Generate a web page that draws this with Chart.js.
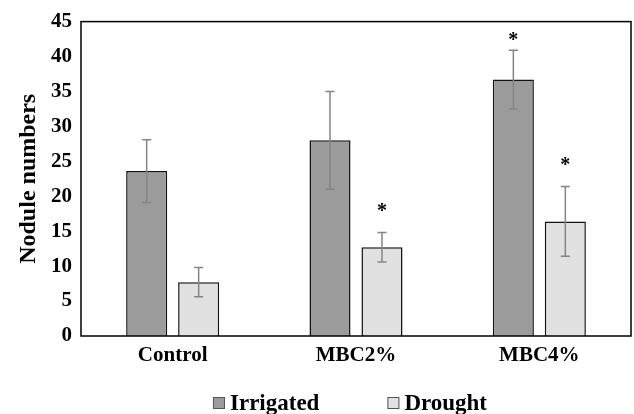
<!DOCTYPE html>
<html>
<head>
<meta charset="utf-8">
<script src="https://cdn.jsdelivr.net/npm/chart.js@4.4.0/dist/chart.umd.min.js"></script>
<style>
html,body{margin:0;padding:0;background:#fff;}
#wrap{width:634px;height:414px;}
</style>
</head>
<body>
<div id="wrap"><canvas id="c" width="634" height="414"></canvas></div>
<script>
const categories = ["Control", "MBC2%", "MBC4%"];
const seriesNames = ["Irrigated", "Drought"];
const irrigated = [23.6, 28.0, 36.7];
const drought = [7.7, 12.7, 16.4];
const irrigatedErr = [4.5, 7.0, 4.2];
const droughtErr = [2.1, 2.1, 5.0];
const irrigatedSig = [null, null, 42.9];
const droughtSig = [null, 18.4, 24.9];
const yTicks = [0, 5, 10, 15, 20, 25, 30, 35, 40, 45];

const FONT = "'Liberation Serif', 'Times New Roman', serif";

const errorPlugin = {
  id: 'errs',
  afterDatasetsDraw(chart) {
    const ctx = chart.ctx;
    const y = chart.scales.y;
    chart.data.datasets.forEach((ds, di) => {
      const meta = chart.getDatasetMeta(di);
      meta.data.forEach((bar, i) => {
        const v = ds.data[i], e = ds.errors[i];
        const yt = y.getPixelForValue(v + e), yb = y.getPixelForValue(v - e);
        ctx.save();
        ctx.strokeStyle = '#858585';
        ctx.lineWidth = 1.5;
        ctx.beginPath();
        ctx.moveTo(bar.x, yt); ctx.lineTo(bar.x, yb);
        ctx.moveTo(bar.x - 4.5, yt); ctx.lineTo(bar.x + 4.5, yt);
        ctx.moveTo(bar.x - 4.5, yb); ctx.lineTo(bar.x + 4.5, yb);
        ctx.stroke();
        if (ds.sig[i] != null) {
          const sz = 20;
          ctx.fillStyle = '#000';
          ctx.font = 'bold ' + sz + 'px ' + FONT;
          ctx.textAlign = 'center';
          ctx.textBaseline = 'alphabetic';
          ctx.fillText('*', bar.x, y.getPixelForValue(ds.sig[i]) + 0.47 * sz);
        }
        ctx.restore();
      });
    });
    const a = chart.chartArea;
    ctx.save();
    ctx.strokeStyle = '#000';
    ctx.lineWidth = 1.5;
    ctx.strokeRect(a.left, a.top, a.right - a.left, a.bottom - a.top);
    ctx.restore();
  },
  afterDraw(chart) {
    const ctx = chart.ctx;
    ctx.save();
    ctx.font = 'bold 23px ' + FONT;
    ctx.textBaseline = 'middle';
    ctx.textAlign = 'left';
    const box = 12, gapT = 5, gapI = 68;
    const items = chart.data.datasets.map(d => ({ d, w: box + gapT + ctx.measureText(d.label).width }));
    const total = items.reduce((s, it) => s + it.w, 0) + gapI * (items.length - 1);
    let x = 350 - total / 2;
    const yc = 403;
    items.forEach(it => {
      ctx.fillStyle = it.d.backgroundColor;
      ctx.fillRect(x, yc - box / 2, box, box);
      ctx.strokeStyle = '#555';
      ctx.lineWidth = 1;
      ctx.strokeRect(x + 0.5, yc - box / 2 + 0.5, box - 1, box - 1);
      ctx.fillStyle = '#000';
      ctx.fillText(it.d.label, x + box + gapT, yc + 1);
      x += it.w + gapI;
    });
    ctx.restore();
  }
};

new Chart(document.getElementById('c'), {
  type: 'bar',
  data: {
    labels: categories,
    datasets: [
      { label: seriesNames[0], data: irrigated, errors: irrigatedErr, sig: irrigatedSig,
        backgroundColor: '#9b9b9b', borderColor: '#111', borderWidth: 1.5,
        categoryPercentage: 0.567, barPercentage: 0.79 },
      { label: seriesNames[1], data: drought, errors: droughtErr, sig: droughtSig,
        backgroundColor: '#e1e1e1', borderColor: '#111', borderWidth: 1.5,
        categoryPercentage: 0.567, barPercentage: 0.79 }
    ]
  },
  options: {
    responsive: false,
    animation: false,
    devicePixelRatio: 1,
    layout: { padding: { top: 20, right: 3, left: 0, bottom: 44 } },
    scales: {
      x: {
        grid: { display: false, drawTicks: false },
        border: { display: false },
        ticks: { color: '#000', font: { family: FONT, size: 21, weight: 'bold' }, padding: 7 },
        afterFit(s) { s.height = 34; }
      },
      y: {
        min: 0, max: 45,
        afterBuildTicks(s) { s.ticks = yTicks.map(v => ({ value: v })); },
        grid: { display: false, drawTicks: false },
        border: { display: false },
        ticks: { color: '#000', font: { family: FONT, size: 21, weight: 'bold' }, padding: 9 },
        title: { display: true, text: 'Nodule numbers', color: '#000',
                 font: { family: FONT, size: 24, weight: 'bold' }, padding: { top: 14, bottom: 0 } },
        afterFit(s) { s.width = 81; }
      }
    },
    plugins: {
      legend: { display: false },
      tooltip: { enabled: false }
    }
  },
  plugins: [errorPlugin]
});
</script>
</body>
</html>
